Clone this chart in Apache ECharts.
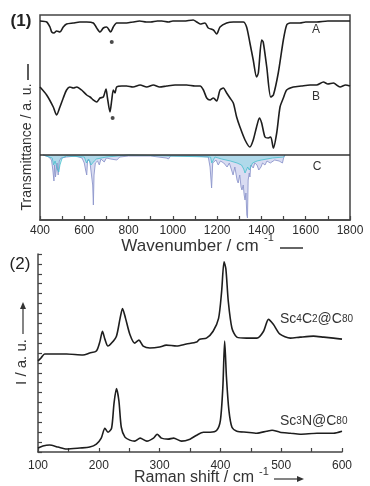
<!DOCTYPE html>
<html><head><meta charset="utf-8">
<script src="https://cdn.jsdelivr.net/npm/echarts/dist/echarts.min.js"></script>
<style>html,body{margin:0;padding:0;background:#fff}#c{width:370px;height:486px}</style>
</head><body><div id="c"></div>
<script>
// ---- Panel (1): IR transmittance (a.u.), divider at 0 ----
const irA = [[400,134],[430,133],[445,128],[453,123],[463,122],[475,124],[490,123],[505,128],[520,131],[550,132],[580,133],[611,133],[641,132],[656,127],[671,123],[686,127],[701,128],[719,123],[731,128],[746,132],[791,132],[820,133],[850,134],[880,133],[900,133],[930,134],[950,134],[980,133],[1000,134],[1050,134],[1092,135],[1108,133],[1123,131],[1145,132],[1160,127],[1183,125],[1198,121],[1213,128],[1243,132],[1273,133],[1318,133],[1333,128],[1348,112],[1363,95],[1378,78],[1386,82],[1401,115],[1408,113],[1424,88],[1442,58],[1454,60],[1476,82],[1499,115],[1514,130],[1529,132],[1574,132],[1600,133],[1650,133],[1700,134],[1750,134],[1800,134]];
const irB = [[400,68],[430,60],[460,48],[475,40],[490,48],[505,57],[520,65],[535,68],[551,67],[566,68],[588,65],[611,60],[626,58],[641,55],[656,53],[671,57],[686,58],[698,66],[704,58],[716,43],[724,55],[731,65],[739,62],[746,68],[770,69],[791,69],[820,68],[852,70],[882,68],[912,70],[940,68],[972,69],[1010,70],[1062,70],[1100,69],[1123,69],[1138,65],[1153,57],[1168,55],[1183,57],[1198,54],[1213,65],[1228,67],[1243,62],[1258,57],[1273,52],[1288,38],[1303,28],[1326,15],[1348,8],[1363,15],[1378,28],[1391,37],[1401,32],[1416,18],[1431,17],[1442,18],[1454,7],[1469,22],[1484,48],[1499,57],[1514,65],[1544,68],[1580,69],[1620,70],[1649,70],[1680,73],[1700,71],[1725,72],[1755,68],[1780,70],[1800,69]];
const irC1 = [[415,0],[440,-2],[452,-5],[458,-15],[463,-26],[466,-10],[470,-22],[474,-24],[477,-8],[482,-20],[487,-6],[495,-3],[520,-2],[560,-1],[590,-3],[600,-8],[606,-15],[611,-20],[615,-5],[625,-6],[632,-8],[638,-30],[641,-50],[644,-20],[650,-8],[660,-6],[668,-10],[675,-4],[690,-7],[700,-3],[720,-4],[747,-5],[760,-2],[800,-1],[900,-1],[970,-3],[980,-4],[990,-1],[1100,-1],[1160,-2],[1168,-12],[1175,-33],[1180,-8],[1195,-5],[1205,-10],[1215,-6],[1230,-8],[1245,-12],[1255,-8],[1265,-15],[1272,-20],[1280,-12],[1290,-25],[1295,-28],[1302,-20],[1308,-32],[1312,-35],[1318,-30],[1322,-40],[1326,-45],[1330,-38],[1334,-60],[1337,-63],[1340,-25],[1345,-18],[1348,-22],[1352,-10],[1358,-12],[1363,-13],[1370,-8],[1380,-10],[1388,-15],[1393,-17],[1398,-12],[1405,-8],[1416,-10],[1425,-6],[1440,-8],[1460,-5],[1480,-6],[1495,-8],[1500,-3],[1506,0]];
const irC2 = [[415,0],[455,-3],[462,-10],[468,-6],[478,-14],[485,-17],[490,-10],[500,-3],[520,-1],[600,-2],[610,-8],[620,-4],[630,-10],[636,-8],[645,-6],[655,-4],[700,-2],[800,0],[1170,-2],[1176,-8],[1190,-2],[1220,-4],[1260,-6],[1290,-8],[1310,-10],[1320,-14],[1326,-18],[1332,-20],[1338,-12],[1345,-15],[1360,-8],[1380,-6],[1400,-5],[1450,-3],[1500,-2],[1506,0]];
const irStars = [[724,113],[728,37]];
// ---- Panel (2): Raman intensity (a.u.) ----
const ramanSc4C2 = [[100,92],[105,95],[111,99],[119,99],[147,99],[174,98],[185,100],[196,102],[202,112],[206,122],[210,114],[215,107],[221,110],[229,117],[235,135],[239,145],[244,135],[251,119],[259,110],[266,113],[273,107],[284,105],[300,106],[311,108],[328,107],[344,109],[361,111],[366,114],[377,115],[388,122],[397,135],[402,162],[406,192],[409,185],[413,152],[419,125],[427,116],[443,115],[460,115],[471,122],[479,134],[487,129],[498,119],[515,115],[531,116],[553,117],[570,116],[586,115],[600,114]];
const ramanSc3N = [[100,4],[108,6],[119,7],[133,5],[147,3],[169,4],[185,5],[196,8],[204,14],[210,24],[215,20],[221,24],[225,49],[229,64],[233,52],[237,25],[243,15],[251,12],[259,11],[268,14],[279,11],[290,14],[296,18],[303,14],[314,13],[323,14],[336,11],[350,13],[361,17],[372,20],[383,20],[394,22],[400,32],[404,65],[407,112],[410,75],[414,42],[419,25],[427,21],[443,20],[460,19],[476,21],[485,22],[498,20],[515,19],[531,18],[559,19],[586,19],[600,21]];

const FF = '"Liberation Sans", Arial, sans-serif';
const ink = '#1e1e1e';
const axisCol = '#444';

const chart = echarts.init(document.getElementById('c'));
function lineS(data, xi, color, w, extra) {
  return Object.assign({type:'line', xAxisIndex:xi, yAxisIndex:xi, data:data, symbol:'none', smooth:0.25,
    lineStyle:{color:color, width:w}, silent:true, animation:false}, extra||{});
}
const plain = v => String(v);
chart.setOption({
  animation:false,
  backgroundColor:'#fff',
  grid:[
    {left:40, right:20, top:15, bottom:266, show:true, borderColor:axisCol, borderWidth:1.5},
    {left:38, right:28, top:254, bottom:34}
  ],
  xAxis:[
    {gridIndex:0, type:'value', min:400, max:1800, interval:200,
     axisLine:{show:true, onZero:false, lineStyle:{color:axisCol, width:1.5}},
     axisTick:{show:true, inside:true, length:4, lineStyle:{color:axisCol, width:1.2}},
     minorTick:{show:true, splitNumber:2, length:4, lineStyle:{color:axisCol, width:1.2}},
     axisLabel:{fontSize:12, color:'#2a2a2a', margin:5, fontFamily:FF, formatter:plain},
     splitLine:{show:false}},
    {gridIndex:1, type:'value', min:100, max:600, interval:100,
     axisLine:{show:true, onZero:false, lineStyle:{color:axisCol, width:1.5}},
     axisTick:{show:true, inside:true, length:4, lineStyle:{color:axisCol, width:1.2}},
     minorTick:{show:true, splitNumber:2, length:4, lineStyle:{color:axisCol, width:1.2}},
     axisLabel:{fontSize:12, color:'#2a2a2a', margin:8, fontFamily:FF, formatter:plain},
     splitLine:{show:false}}
  ],
  yAxis:[
    {gridIndex:0, type:'value', min:-65, max:140, show:false},
    {gridIndex:1, type:'value', min:0, max:200, interval:10,
     axisLine:{show:true, onZero:false, lineStyle:{color:axisCol, width:1.5}},
     axisTick:{show:true, inside:true, length:4, lineStyle:{color:axisCol, width:1.2}},
     axisLabel:{show:false}, splitLine:{show:false}}
  ],
  series:[
    lineS(irC1, 0, '#8d96cc', 0.9, {smooth:false, areaStyle:{color:'#c9cdec', opacity:0.7}}),
    lineS(irC2, 0, '#45bfcd', 0.8, {smooth:false, areaStyle:{color:'#7fd5df', opacity:0.45}}),
    lineS(irA, 0, ink, 1.6, {markLine:{silent:true, symbol:'none', label:{show:false},
      lineStyle:{color:'#333', width:1.5, type:'solid'}, data:[{yAxis:0}]}}),
    lineS(irB, 0, ink, 1.6),
    {type:'scatter', xAxisIndex:0, yAxisIndex:0, data:irStars, symbolSize:4, itemStyle:{color:ink}, silent:true},
    lineS(ramanSc4C2, 1, ink, 1.6),
    lineS(ramanSc3N, 1, ink, 1.6)
  ],
  graphic:[
    {type:'text', x:21, y:21, style:{text:'(1)', font:'bold 17px '+FF, fill:'#222', align:'center', verticalAlign:'middle'}},
    {type:'text', x:20, y:264, style:{text:'(2)', font:'17px '+FF, fill:'#222', align:'center', verticalAlign:'middle'}},
    {type:'text', x:27, y:147, rotation:Math.PI/2, style:{text:'Transmittance / a. u.', font:'14px '+FF, fill:'#333', align:'center', verticalAlign:'middle'}},
    {type:'line', shape:{x1:28, y1:80, x2:28, y2:64}, style:{stroke:'#333', lineWidth:1.6}},
    {type:'text', x:316, y:30, style:{text:'A', font:'12px '+FF, fill:'#333', align:'center', verticalAlign:'middle'}},
    {type:'text', x:316, y:97, style:{text:'B', font:'12px '+FF, fill:'#333', align:'center', verticalAlign:'middle'}},
    {type:'text', x:317, y:167, style:{text:'C', font:'12px '+FF, fill:'#333', align:'center', verticalAlign:'middle'}},
    {type:'text', x:190, y:246, style:{text:'Wavenumber / cm', font:'17px '+FF, fill:'#333', align:'center', verticalAlign:'middle'}},
    {type:'text', x:264, y:238, style:{text:'-1', font:'11px '+FF, fill:'#333', align:'left', verticalAlign:'middle'}},
    {type:'line', shape:{x1:280, y1:248, x2:303, y2:248}, style:{stroke:'#333', lineWidth:1.5}},
    {type:'text', x:22, y:362, rotation:Math.PI/2, style:{text:'I / a. u.', font:'15px '+FF, fill:'#333', align:'center', verticalAlign:'middle'}},
    {type:'line', shape:{x1:23, y1:334, x2:23, y2:308}, style:{stroke:'#333', lineWidth:1.2}},
    {type:'polygon', shape:{points:[[20,309],[26,309],[23,302]]}, style:{fill:'#333'}},
    {type:'text', x:280, y:319, style:{text:'{a|Sc}{b|4}{a|C}{b|2}{a|@C}{b|80}', rich:{a:{fontSize:14, fontFamily:FF, fill:'#333'}, b:{fontSize:10, fontFamily:FF, fill:'#333'}}, align:'left', verticalAlign:'middle'}},
    {type:'text', x:280, y:421, style:{text:'{a|Sc}{b|3}{a|N@C}{b|80}', rich:{a:{fontSize:14, fontFamily:FF, fill:'#333'}, b:{fontSize:10, fontFamily:FF, fill:'#333'}}, align:'left', verticalAlign:'middle'}},
    {type:'text', x:194, y:478, style:{text:'Raman shift / cm', font:'16px '+FF, fill:'#333', align:'center', verticalAlign:'middle'}},
    {type:'text', x:259, y:472, style:{text:'-1', font:'11px '+FF, fill:'#333', align:'left', verticalAlign:'middle'}},
    {type:'line', shape:{x1:274, y1:479, x2:298, y2:479}, style:{stroke:'#333', lineWidth:1.2}},
    {type:'polygon', shape:{points:[[297,476],[297,482],[304,479]]}, style:{fill:'#333'}}
  ]
});
</script></body></html>
